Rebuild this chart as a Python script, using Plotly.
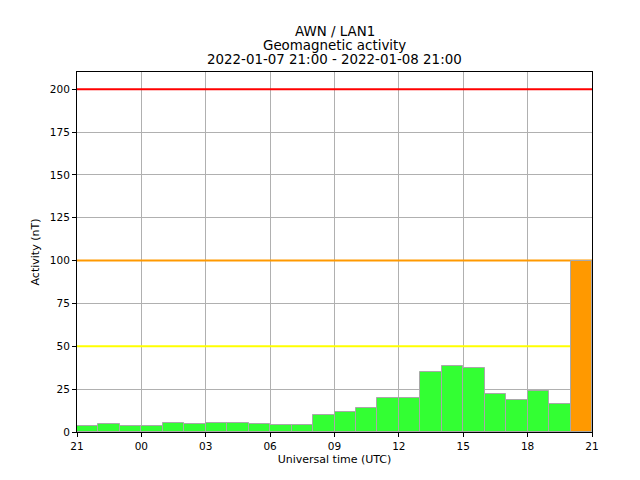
import pandas as pd
import plotly.graph_objects as go

# hourly geomagnetic activity, AWN / LAN1
hour_start = pd.date_range("2022-01-07 21:00", periods=24, freq="h")
activity = [3.3, 4.5, 3.3, 3.3, 5.1, 4.5, 5.1, 5.1, 4.5, 3.9, 3.9, 9.7,
            11.5, 13.8, 19.6, 19.6, 34.8, 38.3, 37.1, 22.0, 18.5, 23.7, 16.2, 100.0]
bar_colors = ["#33ff33"] * 23 + ["#ff9900"]

# alert levels (nT)
levels = [50, 100, 200]
level_colors = ["#ffff00", "#ff9900", "#ff0000"]

t_start = pd.Timestamp("2022-01-07 21:00")
t_end = pd.Timestamp("2022-01-08 21:00")

fig = go.Figure()

fig.add_trace(go.Bar(x=hour_start,
                     y=activity,
                     width=3600 * 1000,
                     offset=0,
                     marker=dict(color=bar_colors,
                                 line=dict(color="#a8a8a8", width=1)),
                     showlegend=False,
                     hoverinfo="skip"))

# threshold lines, between grid and bars
for lev, col in zip(levels, level_colors):
    fig.add_shape(type="line", xref="x", yref="y",
                  x0=t_start, x1=t_end, y0=lev, y1=lev,
                  line=dict(color=col, width=2),
                  layer="between")

# three-line title
title_lines = ["AWN / LAN1", "Geomagnetic activity",
               "2022-01-07 21:00 - 2022-01-08 21:00"]
for i, txt in enumerate(title_lines):
    fig.add_annotation(text=txt, xref="paper", yref="paper",
                       x=0.5, y=1.113 - i * 0.0385,
                       xanchor="center", yanchor="middle",
                       showarrow=False,
                       font=dict(size=13.4, color="black"))

# page body has an 8px margin, so margins are offset to keep the plot area in place
fig.update_layout(width=640, height=480,
                  margin=dict(l=69, r=56, t=64, b=56),
                  paper_bgcolor="white",
                  plot_bgcolor="white",
                  font=dict(family="DejaVu Sans", color="black"),
                  bargap=0,
                  xaxis=dict(type="date",
                             range=[t_start, t_end],
                             tick0=t_start,
                             dtick=3 * 3600 * 1000,
                             tickformat="%H",
                             showgrid=True,
                             gridcolor="#b0b0b0",
                             gridwidth=1,
                             showline=True,
                             mirror=True,
                             linecolor="black",
                             linewidth=1,
                             ticks="outside",
                             ticklen=4,
                             tickcolor="black",
                             tickfont=dict(size=10.5),
                             title=dict(text="Universal time (UTC)",
                                        font=dict(size=11),
                                        standoff=4),
                             zeroline=False),
                  yaxis=dict(range=[0, 210],
                             tick0=0,
                             dtick=25,
                             showgrid=True,
                             gridcolor="#b0b0b0",
                             gridwidth=1,
                             showline=True,
                             mirror=True,
                             linecolor="black",
                             linewidth=1,
                             ticks="outside",
                             ticklen=4,
                             tickcolor="black",
                             tickfont=dict(size=10.5),
                             title=dict(text="Activity (nT)",
                                        font=dict(size=11),
                                        standoff=8),
                             zeroline=False))

fig.write_html("out.html")
